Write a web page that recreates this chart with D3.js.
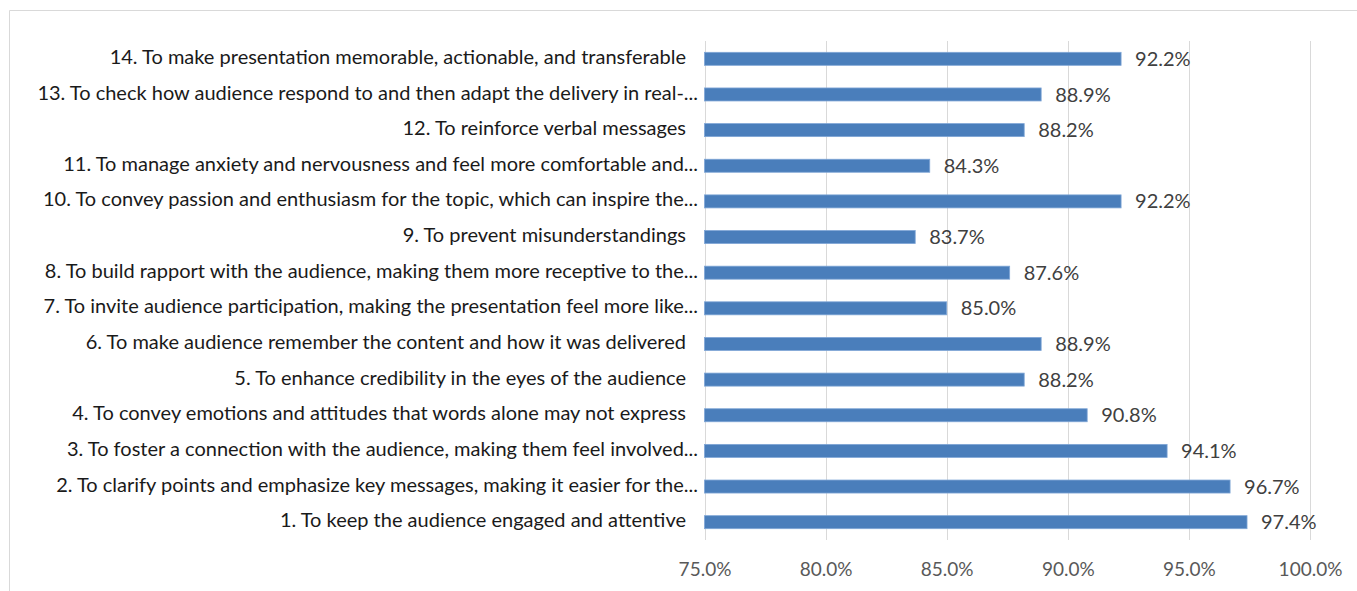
<!DOCTYPE html>
<html>
<head>
<meta charset="utf-8">
<script src="https://cdn.jsdelivr.net/npm/d3@7"></script>
<style>
  html, body { margin: 0; padding: 0; background: #ffffff; }
  svg { display: block; }
  text { font-family: Lato, "Open Sans", "DejaVu Sans", sans-serif; }
</style>
</head>
<body>
<svg id="chart" width="1357" height="591"></svg>
<script>
// ---- data (top to bottom order as displayed) ----
const categories = [
  "14. To make presentation memorable, actionable, and transferable",
  "13. To check how audience respond to and then adapt the delivery in real-...",
  "12. To reinforce verbal messages",
  "11. To manage anxiety and nervousness and feel more comfortable and...",
  "10. To convey passion and enthusiasm for the topic, which can inspire the...",
  "9. To prevent misunderstandings",
  "8. To build rapport with the audience, making them more receptive to the...",
  "7. To invite audience participation, making the presentation feel more like...",
  "6. To make audience remember the content and how it was delivered",
  "5. To enhance credibility in the eyes of the audience",
  "4. To convey emotions and attitudes that words alone may not express",
  "3. To foster a connection with the audience, making them feel involved...",
  "2. To clarify points and emphasize key messages, making it easier for the...",
  "1. To keep the audience engaged and attentive"
];
const values = [92.2, 88.9, 88.2, 84.3, 92.2, 83.7, 87.6, 85.0, 88.9, 88.2, 90.8, 94.1, 96.7, 97.4];
const xTicks = [75, 80, 85, 90, 95, 100];
const xDomain = [75, 100];

const rows = categories.map((c, i) => ({ label: c, value: values[i] }));

const svg = d3.select("#chart");

// frame
svg.append("path")
  .attr("d", "M9.5,591 L9.5,10.5 L1357,10.5")
  .attr("fill", "none")
  .attr("stroke", "#d9d9d9")
  .attr("stroke-width", 1);

const plot = { left: 704.5, right: 1310, top: 41, bottom: 540 };

const x = d3.scaleLinear().domain(xDomain).range([plot.left, plot.right]);
const y = d3.scaleBand()
  .domain(categories)
  .range([plot.top, plot.bottom])
  .paddingInner(0.635)
  .paddingOuter(0.3175);

// gridlines
svg.append("g")
  .selectAll("line")
  .data(xTicks)
  .join("line")
  .attr("x1", d => Math.round(x(d)) + 0.5)
  .attr("x2", d => Math.round(x(d)) + 0.5)
  .attr("y1", plot.top)
  .attr("y2", plot.bottom)
  .attr("stroke", "#d9d9d9")
  .attr("stroke-width", 1);

// x axis labels
const xAxis = d3.axisBottom(x)
  .tickValues(xTicks)
  .tickSize(0)
  .tickPadding(0)
  .tickFormat(d => d.toFixed(1) + "%");

const gx = svg.append("g")
  .attr("transform", `translate(0, ${plot.bottom + 22})`)
  .call(xAxis);
gx.select(".domain").remove();
gx.selectAll("text")
  .attr("font-size", 19)
  .attr("fill", "#595959")
  .style("font-family", "Lato, 'Open Sans', sans-serif");

// bars
svg.append("g")
  .selectAll("rect")
  .data(rows)
  .join("rect")
  .attr("x", x(xDomain[0]))
  .attr("y", d => y(d.label))
  .attr("width", d => x(d.value) - x(xDomain[0]))
  .attr("height", y.bandwidth())
  .attr("fill", "#4a7ebb")
  .attr("stroke", "#7fa6d6")
  .attr("stroke-width", 0.8);

// value labels
svg.append("g")
  .selectAll("text")
  .data(rows)
  .join("text")
  .attr("x", d => x(d.value) + 14)
  .attr("y", d => y(d.label) + y.bandwidth() / 2 + 2)
  .attr("dominant-baseline", "middle")
  .attr("font-size", 20)
  .attr("fill", "#404040")
  .text(d => d.value.toFixed(1) + "%");

// category labels
svg.append("g")
  .selectAll("text")
  .data(rows)
  .join("text")
  .attr("x", d => d.label.endsWith("...") ? 698 : 686)
  .attr("y", d => y(d.label) + y.bandwidth() / 2)
  .attr("text-anchor", "end")
  .attr("dominant-baseline", "middle")
  .attr("font-size", 20)
  .attr("fill", "#1a1a1a")
  .text(d => d.label);
</script>
</body>
</html>
